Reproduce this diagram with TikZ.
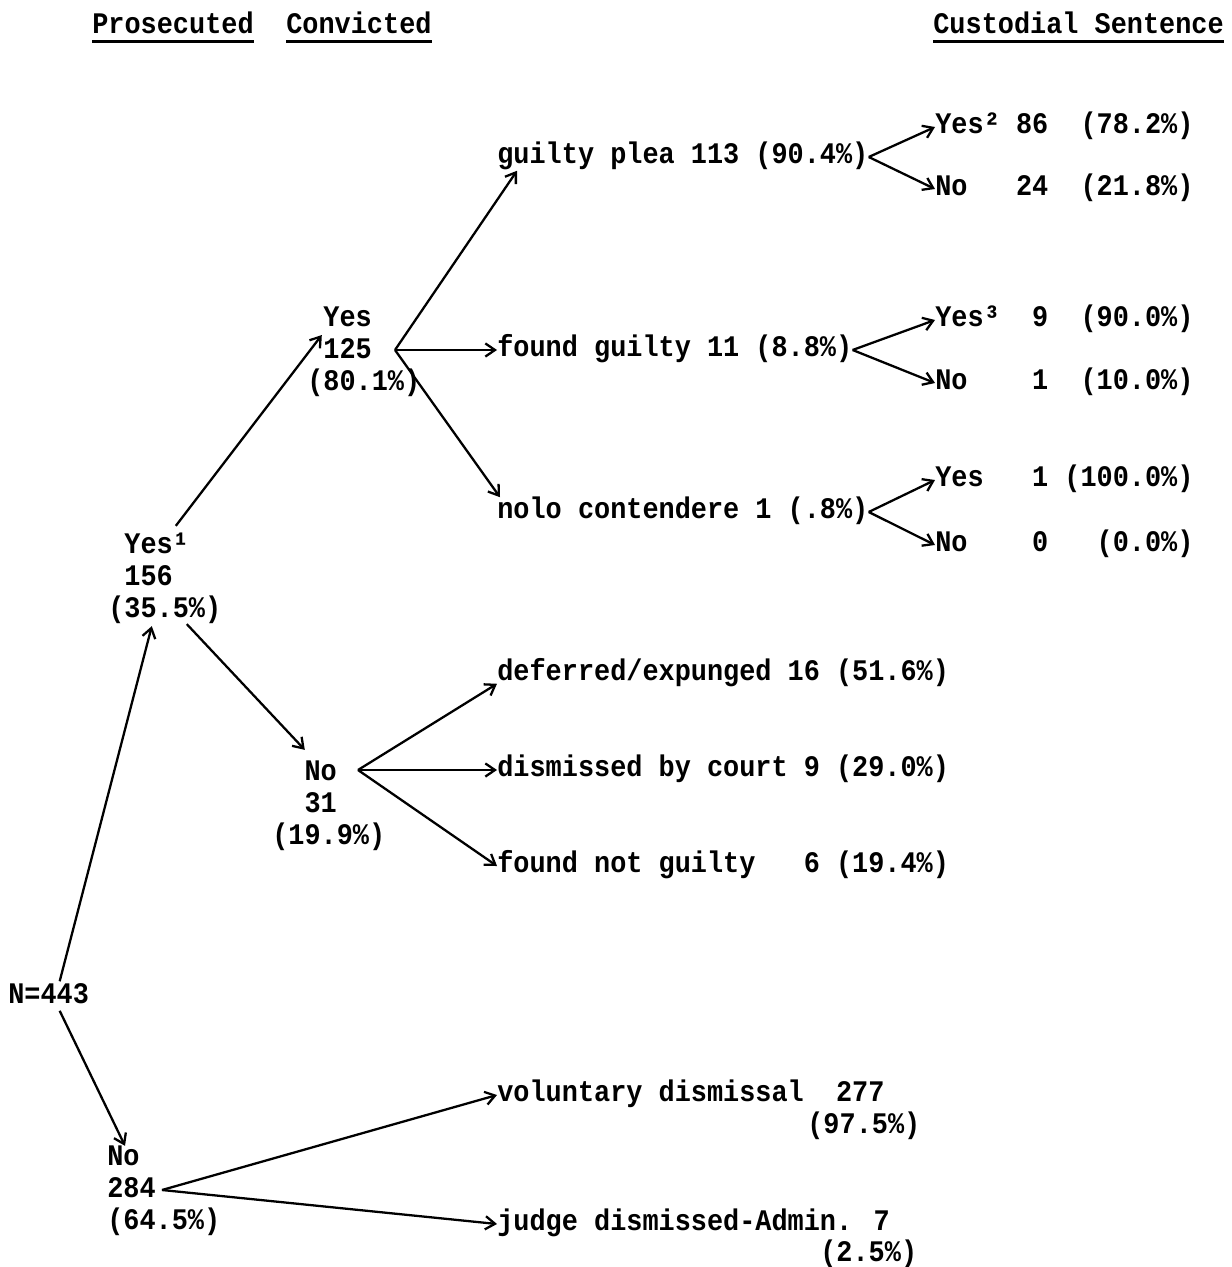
\documentclass[tikz,border=0pt]{standalone}
\usepackage{fontspec}
\usetikzlibrary{arrows.meta, positioning, calc}
\newfontfamily\twfont{Liberation Mono}[FakeStretch=0.9]
\newcommand{\tw}{\twfont\bfseries\fontsize{17}{18.14}\selectfont}
\newcommand{\pad}[1]{\phantom{#1}}

\begin{document}
\begin{tikzpicture}[x=0.02cm, y=-0.02cm,
  >={Straight Barb[length=5.5pt, width=7.5pt]},
  lbl/.style={font=\tw, inner sep=0pt, anchor=west, text height=10pt, text depth=3pt},
  grp/.style={font=\tw, inner sep=0pt, align=left, anchor=west},
  conn/.style={line width=1.3pt, ->},
  uline/.style={line width=1.6pt}]

% Page frame (pixel grid, y downwards)
\useasboundingbox (0,0) rectangle (1231,1267);

% Column headings, underlined
\node[lbl] (pros) at (92,27) {Prosecuted};
\node[lbl] (conv) at (286,27) {Convicted};
\node[lbl] (cust) at (933,27) {Custodial Sentence};
\foreach \h in {pros, conv, cust}
  \draw[uline] ([yshift=-1.5pt]\h.south west) -- ([yshift=-1.5pt]\h.south east);

% Root and first split
\node[lbl] (root) at (8,997) {N=443};
\node[grp] (yes1) at (108,578) {\pad{(}Yes¹\\\pad{(}156\\(35.5\%)};
\node[grp] (no284) at (107,1191) {No\\284\\(64.5\%)};
\draw[conn] ($(root.north)+(11,-4)$) -- ($(yes1.south)+(-13,2)$);
\draw[conn] ($(root.south)+(11,2)$) -- ($(no284.north west)+(18,0)$);

% Convicted or not
\node[grp] (yes125) at (307,351) {\pad{(}Yes\\\pad{(}125\\(80.1\%)};
\node[grp] (no31) at (272,805) {\pad{((}No\\\pad{((}31\\(19.9\%)};
\draw[conn] ($(yes1.north)+(11,-6)$) -- ($(yes125.center)+(-42,-16)$);
\draw[conn] ($(yes1.south)+(22,0)$) -- ($(no31.north)+(-24,-9)$);

% Kind of conviction
\coordinate (f125) at (395,350);
\node[lbl] (gp) at (497,157) {guilty plea 113 (90.4\%)};
\node[lbl] (fg) at (497,350) {found guilty 11 (8.8\%)};
\node[lbl] (nolo) at (497,512) {nolo contendere 1 (.8\%)};
\draw[conn] (f125) -- ($(gp.south west)+(20,2)$);
\draw[conn] (f125) -- (fg.west);
\draw[conn] (f125) -- ($(nolo.north west)+(3,-3)$);

% Custodial sentence per kind
\node[lbl] (y2) at (935,127) {Yes²~86~~(78.2\%)};
\node[lbl] (n2) at (935,189) {No~~~24~~(21.8\%)};
\node[lbl] (y3) at (935,320) {Yes³~~9~~(90.0\%)};
\node[lbl] (n3) at (935,383) {No~~~~1~~(10.0\%)};
\node[lbl] (y4) at (935,480) {Yes~~~1~(100.0\%)};
\node[lbl] (n4) at (935,545) {No~~~~0~~~(0.0\%)};
\draw[conn] (gp.east) -- (y2.west);
\draw[conn] (gp.east) -- (n2.west);
\draw[conn] (fg.east) -- (y3.west);
\draw[conn] (fg.east) -- (n3.west);
\draw[conn] (nolo.east) -- (y4.west);
\draw[conn] (nolo.east) -- (n4.west);

% Not convicted
\coordinate (f31) at (358,770);
\node[lbl] (def) at (497,674) {deferred/expunged 16 (51.6\%)};
\node[lbl] (dis) at (497,770) {dismissed by court 9 (29.0\%)};
\node[lbl] (fng) at (497,866) {found not guilty~~~6 (19.4\%)};
\draw[conn] (f31) -- ($(def.south west)+(0,-2)$);
\draw[conn] (f31) -- (dis.west);
\draw[conn] (f31) -- (fng.west);

% Not prosecuted
\coordinate (f284) at (162,1190);
\node[lbl] (vol) at (497,1095) {voluntary dismissal~~277};
\node[lbl] (volp) at (807,1127) {(97.5\%)};
\node[lbl] (jud) at (497,1224) {judge dismissed-Admin. 7};
\node[lbl] (judp) at (820,1255) {(2.5\%)};
\draw[conn] (f284) -- (vol.west);
\draw[conn] (f284) -- (jud.west);

\end{tikzpicture}
\end{document}
